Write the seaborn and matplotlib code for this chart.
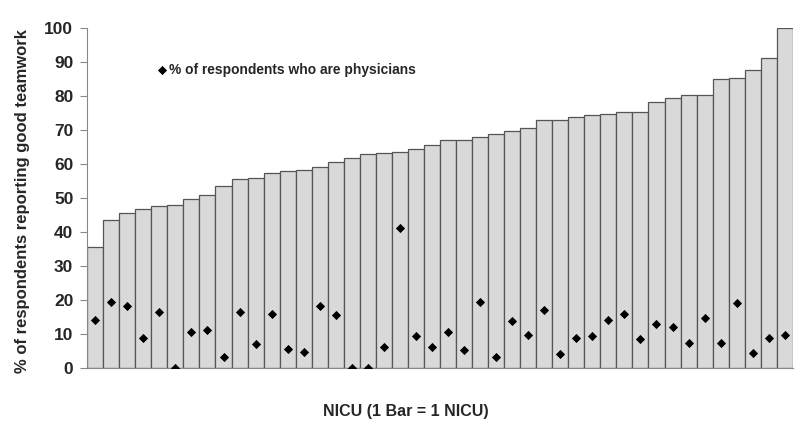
import numpy as np
import pandas as pd
import matplotlib
matplotlib.use("Agg")
import matplotlib.pyplot as plt
import seaborn as sns

# % of respondents reporting good teamwork, one bar per NICU (sorted)
teamwork = [35.7, 43.4, 45.7, 46.9, 47.5, 47.8, 49.8, 50.9, 53.6, 55.5, 55.9,
            57.2, 58.0, 58.3, 59.2, 60.5, 61.7, 62.8, 63.1, 63.6, 64.5, 65.5,
            66.9, 66.9, 67.8, 68.9, 69.7, 70.7, 72.8, 72.8, 73.8, 74.3, 74.6,
            75.3, 75.3, 78.3, 79.4, 80.3, 80.3, 84.9, 85.3, 87.7, 91.2, 100.0]

# % of respondents who are physicians, same NICU order
physicians = [14.2, 19.4, 18.1, 8.8, 16.5, 0.0, 10.5, 11.3, 3.2, 16.5, 7.0,
              15.9, 5.7, 4.7, 18.1, 15.7, 0.0, 0.0, 6.2, 41.3, 9.5, 6.2,
              10.7, 5.2, 19.3, 3.2, 13.8, 9.7, 17.2, 4.2, 8.8, 9.3, 14.2,
              15.9, 8.5, 12.9, 12.2, 7.5, 14.7, 7.5, 19.1, 4.3, 8.8, 9.7]

nicu = list(range(len(teamwork)))
df = pd.DataFrame({"NICU": nicu, "Teamwork": teamwork, "Physicians": physicians})

sns.set_theme(style="white")
plt.rcParams['font.family'] = ['Liberation Sans', 'DejaVu Sans']

fig = plt.figure(figsize=(8, 4.23), dpi=100)
ax = fig.add_axes([0.109, 0.13, 0.882, 0.804])

sns.barplot(data=df, x="NICU", y="Teamwork", color="#d9d9d9", width=1.0,
            edgecolor="#555555", linewidth=0.9, saturation=1, ax=ax)
sns.scatterplot(data=df, x="NICU", y="Physicians", marker="D", color="black",
                s=22, linewidth=0, ax=ax, zorder=5,
                label="% of respondents who are physicians")

ax.set_ylim(0, 100)
ax.set_xlim(-0.5, len(teamwork) - 0.5)
ax.set_yticks(range(0, 101, 10))
ax.set_yticklabels([str(v) for v in range(0, 101, 10)], fontsize=12.5, fontweight='bold')
ax.set_xticks([])
ax.tick_params(axis='y', which='both', left=True, length=5, width=0.8,
               color="#888888", pad=5)

for side in ["top", "right"]:
    ax.spines[side].set_visible(False)
for side in ["left", "bottom"]:
    ax.spines[side].set_color("#888888")
    ax.spines[side].set_linewidth(0.8)

ax.set_ylabel("% of respondents reporting good teamwork", fontsize=12,
              fontweight='bold')
ax.yaxis.set_label_coords(-0.081, 0.49)
ax.set_xlabel("NICU (1 Bar = 1 NICU)", fontsize=11.5, fontweight='bold')
ax.xaxis.set_label_coords(0.452, -0.105)

leg = ax.legend(loc="upper left", bbox_to_anchor=(0.09, 0.913), frameon=False,
                handletextpad=0.1, markerscale=1.0, prop={'size': 9.9, 'weight': 'bold'},
                borderaxespad=0, handlelength=0.8)

fig.savefig("out.png", dpi=100)
